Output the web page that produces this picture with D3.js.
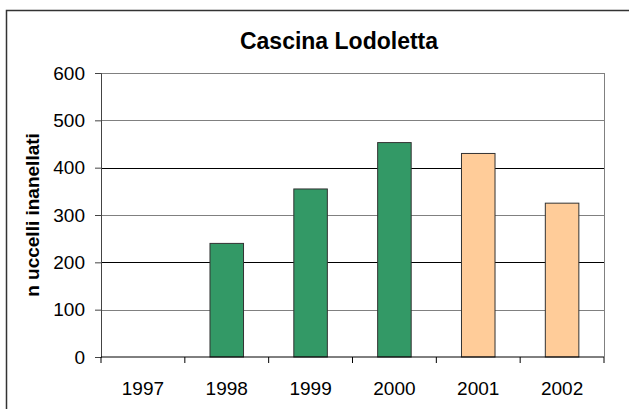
<!DOCTYPE html>
<html>
<head>
<meta charset="utf-8">
<script src="https://cdn.jsdelivr.net/npm/d3@7"></script>
<style>
  body { margin: 0; background: #fff; }
  svg { display: block; font-family: "Liberation Sans", Arial, sans-serif; }
</style>
</head>
<body>
<svg id="chart" width="629" height="409"></svg>
<script>
// data
const years = ["1997", "1998", "1999", "2000", "2001", "2002"];
const birds = [0, 240, 355, 453, 430, 325];
const groups = ["old", "old", "old", "old", "new", "new"];
const yTicks = [0, 100, 200, 300, 400, 500, 600];

const W = 629, H = 409;
const m = { left: 101, right: 25, top: 73, bottom: 52 };

const svg = d3.select("#chart");

// outer frame (runs off right / bottom edge)
svg.append("rect")
  .attr("x", 6.5).attr("y", 10.5)
  .attr("width", W + 10).attr("height", H + 10)
  .attr("fill", "#fff").attr("stroke", "#333").attr("stroke-width", 1.5);

const x = d3.scaleBand()
  .domain(years)
  .range([m.left, W - m.right]);

const y = d3.scaleLinear()
  .domain([0, 600])
  .range([H - m.bottom, m.top]);

const color = d3.scaleOrdinal()
  .domain(["old", "new"])
  .range(["#339966", "#FFCC99"]);

// grid lines
svg.append("g")
  .selectAll("line")
  .data(yTicks.filter(d => d > 0))
  .enter().append("line")
  .attr("x1", m.left).attr("x2", W - m.right)
  .attr("y1", d => Math.round(y(d)) + 0.5)
  .attr("y2", d => Math.round(y(d)) + 0.5)
  .attr("stroke", d => d % 200 === 0 && d < 600 ? "#000" : "#808080")
  .attr("stroke-width", 1);

// right border of plot area
svg.append("line")
  .attr("x1", W - m.right + 0.5).attr("x2", W - m.right + 0.5)
  .attr("y1", y(600)).attr("y2", y(0))
  .attr("stroke", "#808080");

// bars
const bw = x.bandwidth() * 0.4;
svg.append("g")
  .selectAll("rect")
  .data(years)
  .enter().append("rect")
  .filter((d, i) => birds[i] > 0)
  .attr("x", d => x(d) + (x.bandwidth() - bw) / 2)
  .attr("y", d => y(birds[years.indexOf(d)]))
  .attr("width", bw)
  .attr("height", d => y(0) - y(birds[years.indexOf(d)]))
  .attr("fill", d => color(groups[years.indexOf(d)]))
  .attr("stroke", "#333")
  .attr("stroke-width", 1);

// y axis
const yAxis = svg.append("g")
  .attr("transform", `translate(${m.left},0)`)
  .call(d3.axisLeft(y).tickValues(yTicks).tickSize(6).tickPadding(10));
yAxis.select(".domain").attr("stroke", "#444");
yAxis.selectAll(".tick line").attr("stroke", "#444");
yAxis.selectAll("text")
  .attr("font-size", 19).attr("fill", "#000")
  .attr("font-family", "Liberation Sans, Arial, sans-serif");

// x axis: ticks sit between categories
const xAxis = svg.append("g")
  .attr("transform", `translate(0,${y(0)})`);
xAxis.append("line")
  .attr("x1", m.left).attr("x2", W - m.right)
  .attr("stroke", "#000");
xAxis.selectAll("line.tk")
  .data(years.concat(["end"]))
  .enter().append("line")
  .attr("class", "tk")
  .attr("x1", (d, i) => i < years.length ? x(d) : x.range()[1])
  .attr("x2", (d, i) => i < years.length ? x(d) : x.range()[1])
  .attr("y1", 0).attr("y2", 6)
  .attr("stroke", "#000");
xAxis.selectAll("text")
  .data(years)
  .enter().append("text")
  .attr("x", d => x(d) + x.bandwidth() / 2)
  .attr("y", 37.5)
  .attr("text-anchor", "middle")
  .attr("font-size", 19)
  .text(d => d);

// title
svg.append("text")
  .attr("x", 339)
  .attr("y", 49)
  .attr("text-anchor", "middle")
  .attr("font-size", 23)
  .attr("font-weight", "bold")
  .text("Cascina Lodoletta");

// y label
svg.append("text")
  .attr("transform", `translate(39,${(y(0) + y(600)) / 2}) rotate(-90)`)
  .attr("text-anchor", "middle")
  .attr("font-size", 19)
  .attr("font-weight", "bold")
  .text("n uccelli inanellati");
</script>
</body>
</html>
